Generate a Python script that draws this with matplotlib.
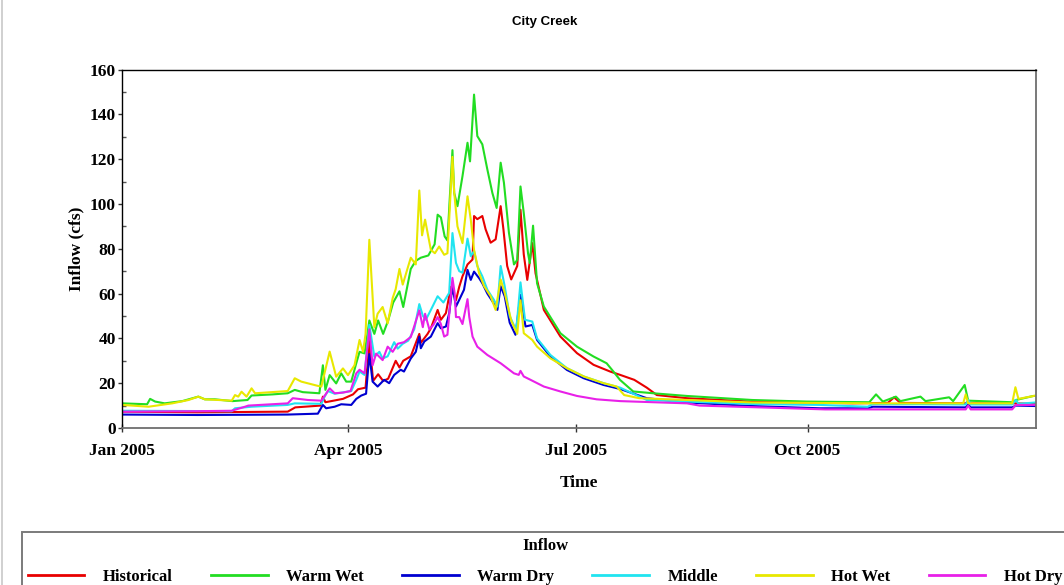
import numpy as np
import pandas as pd
import matplotlib
matplotlib.use("Agg")
import matplotlib.pyplot as plt
import matplotlib.dates as mdates
from matplotlib import font_manager as fm
from matplotlib.lines import Line2D
from matplotlib.ticker import MultipleLocator

# Daily inflow scenarios for City Creek, 2005 (day offset from Jan 1, cfs)
historical = [
    (0, 7.3), (30, 7.0), (66, 7.3), (69, 9.2), (79, 10.0), (80, 14.0), (81, 11.5),
    (88, 13.0), (92, 15.0), (94, 17.3), (97, 18.0), (98.5, 39.0), (100, 21.0),
    (102, 24.0), (104, 21.0), (106, 22.0), (109, 30.0), (110.5, 27.0), (112, 30.0),
    (115, 32.0), (118.4, 42.0), (119, 38.0), (121.7, 42.0), (123, 44.5),
    (125.7, 52.7), (127, 48.3), (129, 51.3), (131, 63.0), (133, 57.0), (134.3, 63.0),
    (135.6, 67.7), (137.6, 73.0), (139.6, 75.2), (140.2, 94.6), (141.5, 93.2),
    (143.5, 94.6), (144.8, 88.7), (146.8, 82.7), (148.8, 84.2), (150.8, 99.0),
    (151.9, 88.7), (153.4, 72.3), (155.0, 66.3), (157.4, 72.3), (158.7, 97.4),
    (160.0, 77.5), (161.4, 66.1), (163.4, 82.5), (164.7, 69.0), (168, 52.7),
    (174.6, 40.8), (181.2, 33.4), (187.8, 28.2), (194.4, 25.2), (198.4, 23.7),
    (204, 21.5), (209, 18.0), (213, 14.7), (225, 13.3), (250, 11.8), (291, 11.0),
    (305, 11.2), (307.5, 13.7), (310, 11.2), (336, 11.0), (337, 12.0), (338, 11.0),
    (355, 11.0), (364, 10.8),
]

warm_wet = [
    (0, 11.0), (10, 10.6), (11.2, 13.0), (13.2, 11.8), (17, 11.0), (24, 12.0),
    (30.4, 14.0), (33, 12.8), (37, 12.8), (44, 12.0), (50, 12.5), (51.6, 14.5),
    (60, 15.0), (66, 15.5), (68.8, 17.0), (72, 16.0), (78.6, 15.5), (80, 28.0),
    (81, 17.0), (82.7, 23.6), (85.3, 19.9), (87.3, 24.4), (89.3, 20.7), (91.3, 20.7),
    (93.3, 28.9), (94.6, 34.0), (96.6, 33.3), (98.0, 44.0), (98.5, 48.0),
    (100.5, 42.0), (102, 48.0), (104, 42.0), (106, 48.0), (108, 56.0), (110.5, 61.0),
    (112, 54.0), (115, 71.0), (117, 74.6), (119, 76.0), (122, 77.0), (124.5, 82.0),
    (125.7, 95.2), (127, 94.0), (128.5, 85.5), (129.6, 83.7), (131.6, 124.0),
    (132.3, 104.9), (133.6, 99.0), (135.6, 112.4), (137.6, 127.3), (138.6, 119.0),
    (140.2, 148.8), (141.5, 130.3), (143.5, 126.6), (145.5, 115.4), (147.5, 104.9),
    (149.2, 98.2), (150.8, 118.4), (152.1, 109.5), (154.1, 87.1), (156.1, 73.0),
    (157.4, 75.0), (158.7, 107.8), (160, 96.0), (161.7, 78.0), (162.4, 73.6),
    (163.7, 90.3), (165.3, 64.6), (168, 54.2), (174.6, 42.3), (181.2, 36.3),
    (187.8, 31.9), (193, 28.9), (195.7, 25.2), (198.3, 21.5), (203.6, 16.3),
    (211.6, 15.5), (225, 14.3), (251, 12.5), (272.5, 11.8), (297.6, 11.5),
    (300.3, 15.0), (303, 11.8), (308.2, 14.0), (310, 12.0), (318, 14.0), (320, 12.0),
    (329.4, 13.7), (331, 12.0), (335.6, 19.2), (337, 12.2), (354.5, 11.5),
    (356, 12.5), (363, 14.3), (364, 14.3),
]

warm_dry = [
    (0, 6.0), (30, 5.8), (66, 6.0), (78, 6.4), (80, 10.3), (81.3, 8.8), (84.7, 9.5),
    (87.3, 10.6), (91.3, 10.3), (93.3, 13.0), (95.3, 14.5), (97.2, 15.3),
    (98.5, 33.0), (99.8, 20.7), (101.8, 18.5), (104.4, 21.5), (106.4, 20.0),
    (108.4, 23.7), (111, 26.0), (112.3, 25.2), (115, 31.0), (117, 34.0),
    (118.4, 40.8), (119, 35.6), (120.4, 38.6), (123, 40.8), (125.7, 46.8),
    (127, 44.5), (129, 45.3), (130.3, 51.2), (131.6, 63.3), (133, 54.2),
    (134.3, 57.2), (136.2, 61.7), (137.6, 70.6), (138.9, 66.1), (140.2, 69.8),
    (142.2, 66.9), (143.5, 64.6), (145.5, 60.0), (148, 55.7), (149.5, 52.7),
    (150.8, 63.3), (152.4, 58.8), (154.4, 47.0), (156.7, 41.6), (158.7, 59.4),
    (160.7, 45.3), (163.4, 46.0), (165.3, 39.3), (170.6, 31.9), (177.2, 25.9),
    (183.9, 22.2), (191.8, 19.2), (198.4, 17.4), (209, 13.3), (225, 11.4),
    (251, 9.8), (277.8, 8.8), (297, 8.8), (299, 9.5), (336, 9.2), (337, 10.5),
    (338, 9.2), (354.5, 9.2), (356, 10.0), (364, 9.8),
]

middle = [
    (0, 7.7), (43.7, 7.5), (45, 8.8), (51.6, 9.5), (66, 10.3), (68.8, 11.0),
    (79.4, 10.8), (80.7, 14.0), (82, 16.5), (84.7, 15.3), (88.6, 16.0),
    (91.3, 16.5), (93.3, 21.5), (94.6, 25.2), (96.6, 23.7), (98.5, 46.0),
    (100.5, 31.8), (102.5, 34.0), (103.8, 31.0), (105.8, 32.0), (108.4, 38.3),
    (109.8, 35.4), (111.8, 37.6), (114, 39.0), (116.4, 44.1), (118.4, 55.3),
    (119.8, 50.1), (121, 48.3), (123, 52.7), (125.7, 58.8), (128, 56.0),
    (130.3, 60.3), (131.6, 87.0), (133, 73.7), (134.3, 70.0), (135.6, 69.3),
    (137.6, 84.5), (138.9, 76.7), (140.2, 79.0), (141.5, 72.3), (143.5, 67.7),
    (145.5, 61.7), (148.1, 57.2), (149.5, 54.2), (150.8, 72.3), (152.4, 63.3),
    (154.4, 50.0), (157, 43.5), (158.7, 65.0), (160.5, 48.3), (163.4, 47.5),
    (165.3, 40.0), (170.6, 32.6), (177.2, 26.7), (183.9, 23.0), (191.8, 20.0),
    (198.4, 18.0), (209, 12.5), (225, 11.8), (251, 10.7), (278, 10.3), (297, 9.5),
    (299, 10.7), (336, 10.5), (337, 12.5), (338, 10.5), (354.5, 10.5), (356, 12.5),
    (357, 10.8), (364, 11.4),
]

hot_wet = [
    (0, 10.3), (10.6, 9.5), (20, 11.0), (26.5, 12.5), (30.4, 14.0), (33, 12.8),
    (43.7, 12.2), (45, 14.7), (46.3, 14.0), (47.6, 16.2), (49.6, 14.0), (51.6, 17.7),
    (53, 15.5), (66, 16.5), (68.8, 22.2), (71.4, 20.7), (78, 18.8), (79.4, 18.5),
    (82.7, 34.1), (85.3, 22.9), (88, 26.6), (90, 23.6), (92.6, 28.0), (94.6, 39.3),
    (96, 34.0), (97, 42.0), (98.5, 84.0), (100.5, 45.0), (101.8, 51.0),
    (103.8, 54.0), (105.8, 46.7), (107.8, 58.0), (109, 62.0), (110.5, 71.0),
    (111.8, 64.0), (115, 76.0), (117, 73.0), (118.4, 106.0), (119.5, 86.0),
    (120.7, 93.0), (123, 79.5), (124.6, 78.0), (126.3, 81.0), (128.3, 77.3),
    (129.6, 78.0), (131.6, 121.0), (132.3, 105.0), (133.6, 90.0), (135.6, 82.5),
    (137.6, 103.4), (138.9, 93.0), (140.2, 79.5), (142.2, 69.1), (144.2, 63.3),
    (146.8, 58.8), (148.8, 52.7), (150.8, 66.3), (152.4, 60.3), (155, 48.0),
    (157.4, 42.0), (158.7, 57.0), (160, 42.3), (163.4, 39.3), (165.3, 36.3),
    (170.6, 31.1), (177.2, 26.7), (183.9, 23.0), (191.8, 20.0), (197, 18.5),
    (200, 14.7), (206, 13.3), (225, 12.5), (251, 11.4), (300, 11.0), (335, 11.0),
    (336, 15.0), (337, 11.0), (354.5, 11.0), (355.8, 18.2), (357, 13.0),
    (364, 14.5),
]

hot_dry = [
    (0, 7.3), (30, 7.5), (43.7, 7.7), (49, 9.5), (50.3, 10.0), (66, 11.0),
    (68, 13.3), (74, 12.5), (79.4, 12.2), (82.7, 17.7), (84.7, 15.5), (88, 15.8),
    (91, 16.5), (93.3, 24.4), (94.6, 26.0), (96.6, 24.4), (98.5, 44.0),
    (99.8, 28.0), (101.2, 33.2), (103.8, 30.3), (105.8, 36.3), (107.8, 34.0),
    (109.8, 37.6), (112.3, 38.3), (115, 40.6), (118.4, 52.5), (119.8, 45.0),
    (120.7, 51.0), (122.4, 44.0), (124, 46.0), (125.7, 49.5), (127, 46.4),
    (128.3, 40.8), (129.6, 41.6), (131.6, 67.0), (132.5, 60.0), (133, 49.5),
    (134.3, 49.5), (135.6, 46.4), (137.6, 57.5), (138.3, 49.5), (139.6, 40.8),
    (141.5, 36.3), (145.5, 32.6), (150.8, 28.9), (156.1, 24.4), (158, 23.7),
    (158.7, 25.5), (160, 23.0), (162.7, 21.5), (168, 18.5), (174.6, 16.3),
    (181.2, 14.3), (189, 12.8), (198.4, 12.0), (225, 11.0), (230, 10.0),
    (260, 9.0), (280, 8.3), (336, 8.3), (337, 10.0), (338, 8.3), (354.5, 8.3),
    (356, 10.3), (364, 10.3),
]

series_names = ["Historical", "Warm Wet", "Warm Dry", "Middle", "Hot Wet", "Hot Dry"]
series_data = [historical, warm_wet, warm_dry, middle, hot_wet, hot_dry]
series_colors = ["#e80000", "#22dd22", "#0000d0", "#20e4f0", "#e8e800", "#e820e8"]

start_date = pd.Timestamp("2005-01-01")
end_date = pd.Timestamp("2005-12-31")

available = {f.name for f in fm.fontManager.ttflist}
serif = "Liberation Serif" if "Liberation Serif" in available else "DejaVu Serif"
narrow = "Liberation Sans Narrow" if "Liberation Sans Narrow" in available else "Liberation Sans"

plt.rcParams["font.family"] = [serif, "DejaVu Serif"]
plt.rcParams["font.weight"] = "bold"

fig = plt.figure(figsize=(10.64, 5.85), dpi=100)
ax = fig.add_axes([122 / 1064, 1 - 428 / 585, (1036 - 122) / 1064, (428 - 69.5) / 585])

handles = []
for name, pts, color in zip(series_names, series_data, series_colors):
    days = np.array([p[0] for p in pts])
    vals = np.array([p[1] for p in pts])
    dates = start_date + pd.to_timedelta(days, unit="D")
    (ln,) = ax.plot(dates, vals, color=color, lw=1.5, label=name, solid_joinstyle="round")
    handles.append(ln)

ax.set_xlim(start_date, end_date)
ax.set_ylim(0, 160)
ax.yaxis.set_major_locator(MultipleLocator(20))
ax.yaxis.set_minor_locator(MultipleLocator(10))
ax.xaxis.set_major_locator(mdates.MonthLocator(bymonth=[1, 4, 7, 10]))
ax.xaxis.set_major_formatter(mdates.DateFormatter("%b %Y"))

ax.tick_params(axis="y", which="major", direction="out", length=3, width=1, pad=1.5,
               labelsize=12.5, color="#333333")
ax.tick_params(axis="y", which="minor", direction="in", length=3, width=1, color="#555555")
ax.tick_params(axis="x", which="major", direction="inout", length=6, width=1, pad=8,
               labelsize=12.5, color="#333333")
for lbl in ax.get_xticklabels() + ax.get_yticklabels():
    lbl.set_fontweight("bold")

for side in ["top", "left"]:
    ax.spines[side].set_color("#000000")
    ax.spines[side].set_linewidth(1.0)
for side in ["right", "bottom"]:
    ax.spines[side].set_color("#6e6e6e")
    ax.spines[side].set_linewidth(1.3)

ax.set_xlabel("Time", fontsize=12.5, fontweight="bold", labelpad=11.5)
ax.set_ylabel("Inflow (cfs)", fontsize=12.5, fontweight="bold", labelpad=4)

fig.text(545 / 1064, 1 - 22 / 585, "City Creek", ha="center", va="center",
         family=[narrow, "DejaVu Sans"], fontweight="bold", fontsize=9.5)

# thin border along the left edge of the canvas
fig.add_artist(Line2D([1.5 / 1064, 1.5 / 1064], [0, 1], transform=fig.transFigure,
                      color="#c8c8c8", lw=1.2))

leg = fig.legend(handles, series_names, loc="upper left",
                 bbox_to_anchor=(22 / 1064, 1 - 532 / 585), ncol=6,
                 title="Inflow", frameon=True, fancybox=False, shadow=False,
                 prop=dict(family=[serif, "DejaVu Serif"], weight="bold", size=12),
                 title_fontproperties=dict(family=[serif, "DejaVu Serif"], weight="bold", size=12),
                 handlelength=3.4, handletextpad=1.1, columnspacing=2.3,
                 borderpad=0.35, labelspacing=0.9, borderaxespad=0)
frame = leg.get_frame()
frame.set_edgecolor("#5a5a5a")
frame.set_linewidth(1.4)
frame.set_facecolor("white")
for h in leg.legend_handles:
    h.set_linewidth(2.0)

fig.savefig("out.png", dpi=100)
